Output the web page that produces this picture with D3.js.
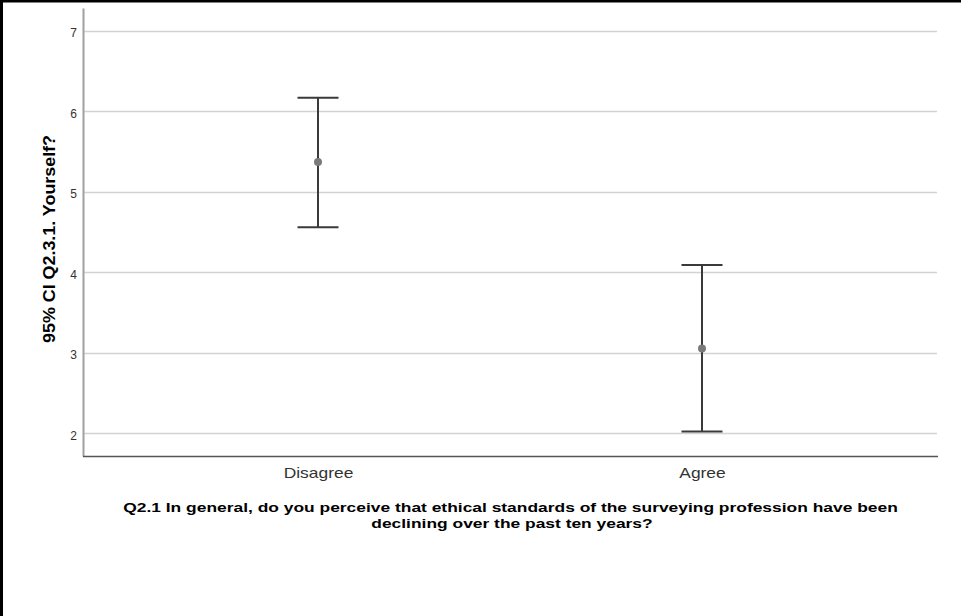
<!DOCTYPE html>
<html>
<head>
<meta charset="utf-8">
<script src="https://cdn.jsdelivr.net/npm/d3@7"></script>
<style>
  html, body { margin: 0; padding: 0; background: #fff; }
  svg { display: block; font-family: "Liberation Sans", Arial, sans-serif; }
</style>
</head>
<body>
<script>
// Groups and their 95% confidence intervals
const categories = ["Disagree", "Agree"];
const means = [5.37, 3.05];
const lowerCI = [4.56, 2.02];
const upperCI = [6.17, 4.09];
const yTicks = [2, 3, 4, 5, 6, 7];

const W = 961, H = 616;
const plot = { left: 83, right: 937, top: 8, bottom: 456 };
const widen = 1.16; // horizontal text stretch

const svg = d3.select("body").append("svg")
  .attr("width", W).attr("height", H);

// frame on top and left edges
svg.append("line").attr("x1", 0).attr("x2", W).attr("y1", 1).attr("y2", 1)
  .attr("stroke", "#000").attr("stroke-width", 3);
svg.append("line").attr("x1", 1.5).attr("x2", 1.5).attr("y1", 0).attr("y2", H)
  .attr("stroke", "#000").attr("stroke-width", 3);

const x = d3.scalePoint().domain(categories)
  .range([plot.left, plot.right]).padding(0.612);
const y = d3.scaleLinear().domain([1.714, 7.286])
  .range([plot.bottom, plot.top]);

function stretch(sel, k) {
  sel.each(function () {
    const len = this.getComputedTextLength();
    d3.select(this).attr("textLength", len * k).attr("lengthAdjust", "spacingAndGlyphs");
  });
}

// horizontal gridlines
svg.append("g").selectAll("line").data(yTicks).join("line")
  .attr("x1", plot.left).attr("x2", plot.right)
  .attr("y1", d => Math.round(y(d)) + 0.5).attr("y2", d => Math.round(y(d)) + 0.5)
  .attr("stroke", "#d2d2d2").attr("stroke-width", 1.5);

// y axis
const yAxis = svg.append("g").attr("transform", `translate(${plot.left},0)`)
  .call(d3.axisLeft(y).tickValues(yTicks).tickSize(0).tickPadding(6).tickFormat(d3.format("d")));
yAxis.select(".domain").attr("stroke", "#a0a0a0").attr("stroke-width", 2);
yAxis.selectAll("text").attr("font-size", 12).attr("fill", "#333")
  .attr("dy", "0.5em")
  .attr("font-family", "Liberation Sans, Arial, sans-serif");

// x axis
const xAxis = svg.append("g").attr("transform", `translate(0,${plot.bottom})`)
  .call(d3.axisBottom(x).tickSize(0).tickPadding(11));
xAxis.select(".domain").attr("d", `M${plot.left},0.5H${plot.right + 1}`)
  .attr("stroke", "#555").attr("stroke-width", 1.5);
xAxis.selectAll("text").attr("font-size", 15).attr("fill", "#333")
  .attr("font-family", "Liberation Sans, Arial, sans-serif")
  .call(stretch, widen);

// error bars
const capHalf = 20.5;
const bars = svg.append("g").selectAll("g").data(categories).join("g");
bars.append("line")
  .attr("x1", d => x(d)).attr("x2", d => x(d))
  .attr("y1", (d, i) => y(upperCI[i])).attr("y2", (d, i) => y(lowerCI[i]))
  .attr("stroke", "#3a3a3a").attr("stroke-width", 2);
bars.append("line")
  .attr("x1", d => x(d) - capHalf).attr("x2", d => x(d) + capHalf)
  .attr("y1", (d, i) => y(upperCI[i])).attr("y2", (d, i) => y(upperCI[i]))
  .attr("stroke", "#3a3a3a").attr("stroke-width", 2);
bars.append("line")
  .attr("x1", d => x(d) - capHalf).attr("x2", d => x(d) + capHalf)
  .attr("y1", (d, i) => y(lowerCI[i])).attr("y2", (d, i) => y(lowerCI[i]))
  .attr("stroke", "#3a3a3a").attr("stroke-width", 2);
bars.append("circle")
  .attr("cx", d => x(d)).attr("cy", (d, i) => y(means[i])).attr("r", 4)
  .attr("fill", "#7a7a7a");

// axis titles
svg.append("text")
  .attr("transform", `translate(55,239) rotate(-90)`)
  .attr("text-anchor", "middle").attr("font-size", 16).attr("font-weight", "bold")
  .attr("fill", "#000").text("95% CI Q2.3.1. Yourself?")
  .attr("textLength", 208).attr("lengthAdjust", "spacingAndGlyphs");

const titleLines = [
  "Q2.1 In general, do you perceive that ethical standards of the surveying profession have been",
  "declining over the past ten years?"
];
svg.append("g").selectAll("text").data(titleLines).join("text")
  .attr("text-anchor", "middle")
  .attr("x", (d, i) => i === 0 ? 510.5 : 512)
  .attr("y", (d, i) => 512 + i * 15.5)
  .attr("font-size", 13.5).attr("font-weight", "bold").attr("fill", "#000")
  .text(d => d)
  .call(stretch, widen * 15 / 13.5);
</script>
</body>
</html>
